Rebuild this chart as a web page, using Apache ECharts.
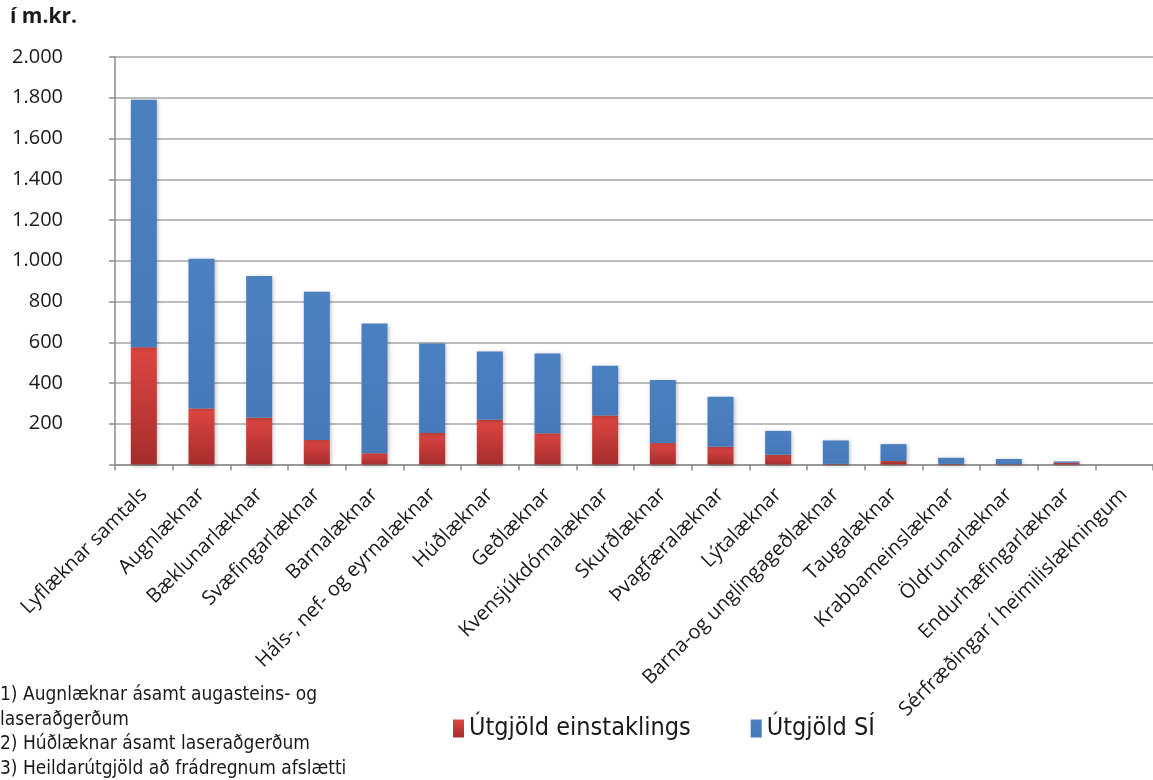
<!DOCTYPE html>
<html>
<head>
<meta charset="utf-8">
<script src="https://cdn.jsdelivr.net/npm/echarts@6/dist/echarts.min.js"></script>
<style>
html,body{margin:0;padding:0;background:#fff;}
#chart{width:1153px;height:780px;}
</style>
</head>
<body>
<div id="chart"></div>
<script>
const categories = [
  'Lyflæknar samtals','Augnlæknar','Bæklunarlæknar','Svæfingarlæknar','Barnalæknar',
  'Háls-, nef- og eyrnalæknar','Húðlæknar','Geðlæknar','Kvensjúkdómalæknar','Skurðlæknar',
  'Þvagfæralæknar','Lýtalæknar','Barna-og unglingageðlæknar','Taugalæknar','Krabbameinslæknar',
  'Öldrunarlæknar','Endurhæfingarlæknar','Sérfræðingar í heimilislækningum'
];
const einstaklings = [575, 275, 230, 120, 55, 155, 220, 153, 240, 105, 87, 48, 3, 17, 3, 2, 8, 0];
const sjukratryggingar = [1215, 735, 695, 728, 637, 439, 335, 392, 245, 310, 246, 117, 115, 83, 30, 25, 7, 0];
const yTicks = { min: 0, max: 2000, interval: 200 };
const footnotes = [
  '1) Augnlæknar ásamt augasteins- og',
  'laseraðgerðum',
  '2) Húðlæknar ásamt laseraðgerðum',
  '3) Heildarútgjöld að frádregnum afslætti'
];

const chart = echarts.init(document.getElementById('chart'), null, {renderer: 'canvas'});
const redGrad = new echarts.graphic.LinearGradient(0, 0, 0, 1, [
  {offset: 0, color: '#dd4642'}, {offset: 1, color: '#a52d2d'}
]);
const blueGrad = new echarts.graphic.LinearGradient(0, 0, 0, 1, [
  {offset: 0, color: '#4b80c1'}, {offset: 1, color: '#4679b8'}
]);
const condensed = "'DejaVu Sans Condensed','Liberation Sans Narrow','Open Sans',sans-serif";

chart.setOption({
  animation: false,
  backgroundColor: '#ffffff',
  grid: { left: 115, top: 57, width: 1044, height: 407.5, containLabel: false },
  xAxis: {
    type: 'category',
    data: categories,
    axisLine: { show: true, lineStyle: { color: '#8c8c8c', width: 1.5 } },
    axisTick: { show: true, length: 6, lineStyle: { color: '#8c8c8c', width: 1.5 } },
    axisLabel: {
      rotate: 45, interval: 0, margin: 27,
      fontFamily: "'Open Sans',sans-serif", fontSize: 20, color: '#1a1a1a'
    }
  },
  yAxis: {
    type: 'value',
    min: yTicks.min, max: yTicks.max, interval: yTicks.interval,
    axisLine: { show: true, lineStyle: { color: '#8c8c8c', width: 1.5 } },
    axisTick: { show: true, length: 6, lineStyle: { color: '#8c8c8c', width: 1.5 } },
    splitLine: { show: true, lineStyle: { color: '#a6a6a6', width: 1.5 } },
    axisLabel: {
      margin: 52,
      align: 'right',
      fontFamily: "'Open Sans',sans-serif", fontSize: 20, color: '#1a1a1a',
      formatter: v => v === 0 ? '' : v.toString().replace(/\B(?=(\d{3})+(?!\d))/g, '.')
    }
  },
  legend: {
    left: 448, top: 711,
    itemGap: 60, itemWidth: 11, itemHeight: 18,
    icon: 'rect',
    textStyle: { fontFamily: condensed, fontSize: 25, color: '#1a1a1a' },
    data: ['Útgjöld einstaklings', 'Útgjöld SÍ']
  },
  series: [
    {
      name: 'Útgjöld einstaklings', type: 'bar', stack: 'a', barWidth: 26,
      data: einstaklings,
      itemStyle: { color: redGrad, shadowBlur: 4, shadowColor: 'rgba(0,0,0,0.25)', shadowOffsetX: 1, shadowOffsetY: 1 }
    },
    {
      name: 'Útgjöld SÍ', type: 'bar', stack: 'a', barWidth: 26,
      data: sjukratryggingar,
      itemStyle: { color: blueGrad, shadowBlur: 4, shadowColor: 'rgba(0,0,0,0.25)', shadowOffsetX: 1, shadowOffsetY: 1 }
    }
  ],
  graphic: [
    { type: 'text', left: 10, top: 7, style: { text: 'í m.kr.', font: "bold 21px 'Open Sans',sans-serif", fill: '#1a1a1a' } },
    { type: 'text', left: 0, top: 683, style: { text: footnotes.join('\n'), font: "19px " + condensed, fill: '#1a1a1a', lineHeight: 24.5 } }
  ]
});
</script>
</body>
</html>
